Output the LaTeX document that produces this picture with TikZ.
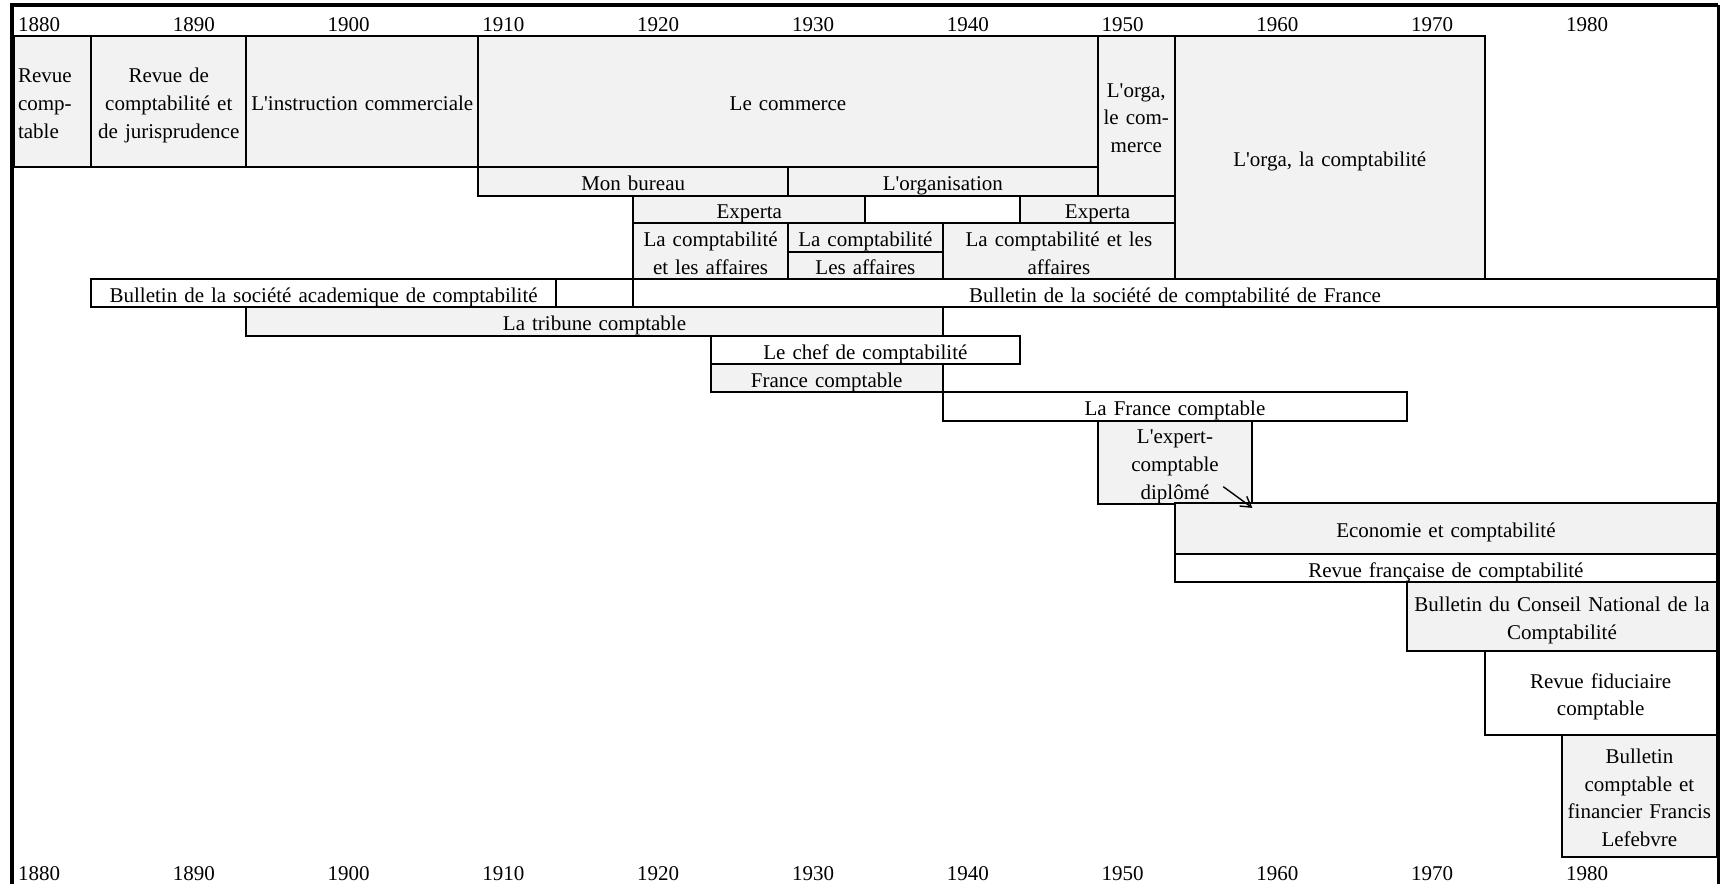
\documentclass[tikz,border=0pt]{standalone}
\usepackage{fontspec}
\setmainfont{Liberation Serif}
\usetikzlibrary{arrows.meta}
\definecolor{cellgray}{HTML}{F2F2F2}
\newcommand{\apos}{\textquotesingle}

\begin{document}
\begin{tikzpicture}[x=38.7pt, y=-0.5pt, font=\fontsize{10.5}{13.9}\selectfont,
    cell/.style 2 args={draw, line width=1pt, fill=cellgray, anchor=north west,
      inner xsep=1pt, inner ysep=0pt, outer sep=0pt, minimum width=#1*38.7pt, minimum height=#2*0.5pt,
      text width=#1*38.7pt-2pt, align=center,
      execute at begin node={\rule[-2.3pt]{0pt}{13.8pt}}, execute at end node={\rule[-2.3pt]{0pt}{13.8pt}}},
    blank/.style={fill=white},
    year/.style={anchor=west, inner sep=0pt, xshift=1.8pt}]
  \useasboundingbox (-0.1809,0) rectangle (22.0413,884);

  \node[cell={1}{131.6}, inner xsep=2pt, text width=34.7pt, align=left] (revcpt) at (0,35.7) {Revue\\comp-\\table};
  \node[cell={2}{131.6}] (revjur) at (1,35.7) {Revue de\\comptabilité et\\de jurisprudence};
  \node[cell={3}{131.6}] (instr) at (3,35.7) {L\apos instruction commerciale};
  \node[cell={8}{131.6}] (commerce) at (6,35.7) {Le commerce};
  \node[cell={1}{160}] (orgacom) at (14,35.7) {L\apos orga,\\le com-\\merce};
  \node[cell={4}{243.6}] (orgacpt) at (15,35.7) {L\apos orga, la comptabilité};

  \node[cell={4}{28.4}] (bureau) at (6,167.3) {Mon bureau};
  \node[cell={4}{28.4}] (organis) at (10,167.3) {L\apos organisation};

  \node[cell={3}{27.6}] (experta) at (8,195.7) {Experta};
  \node[cell={2}{27.6}, blank] (gapexp) at (11,195.7) {};
  \node[cell={2}{27.6}] (expertb) at (13,195.7) {Experta};

  \node[cell={2}{56}] (cptaff) at (8,223.3) {La comptabilité\\et les affaires};
  \node[cell={2}{28.4}] (cpta) at (10,223.3) {La comptabilité};
  \node[cell={2}{27.6}] (affaires) at (10,251.7) {Les affaires};
  \node[cell={3}{56}] (cptaffb) at (12,223.3) {La comptabilité et les\\affaires};

  \node[cell={6}{28}, blank] (bulacad) at (1,279.3) {Bulletin de la société academique de comptabilité};
  \node[cell={1}{28}, blank] (gapbul) at (7,279.3) {};
  \node[cell={14}{28}, blank] (bulfr) at (8,279.3) {Bulletin de la société de comptabilité de France};

  \node[cell={9}{28.4}] (tribune) at (3,307.3) {La tribune comptable};
  \node[cell={4}{28.3}, blank] (chef) at (9,335.7) {Le chef de comptabilité};
  \node[cell={3}{28}] (francecpt) at (9,364) {France comptable};
  \node[cell={6}{28.7}, blank] (lafrance) at (12,392) {La France comptable};
  \node[cell={2}{82.6}] (expcd) at (14,420.7) {L\apos expert-\\comptable\\diplômé};
  \node[cell={7}{50.7}] (economie) at (15,503.3) {Economie et comptabilité};
  \node[cell={7}{28.3}, blank] (revfr) at (15,554) {Revue française de comptabilité};
  \node[cell={4}{68.4}] (conseil) at (18,582.3) {Bulletin du Conseil National de la\\Comptabilité};
  \node[cell={3}{84.3}, blank] (fiduc) at (19,650.7) {Revue fiduciaire\\comptable};
  \node[cell={2}{121.7}] (lefebvre) at (20,735) {Bulletin\\comptable et\\financier Francis\\Lefebvre};

  \coordinate (dipl) at (15.624,486.7);
  \draw[-{Straight Barb[length=5pt,width=6pt]}, line width=0.7pt] (dipl) -- ([yshift=-2pt]expcd.south east);

  \foreach \yr [count=\c from 0] in {1880,1890,...,1980} {
    \node[year] (top\yr) at ({2*\c},24.5) {\yr};
    \node[year] (bot\yr) at ({2*\c},873.5) {\yr};
  }

  \draw[line width=2pt] (-0.026,884) -- (-0.026,5) -- (22.02,5);
  \draw[line width=1.2pt] (22.02,5) -- (22.02,884);
\end{tikzpicture}
\end{document}
